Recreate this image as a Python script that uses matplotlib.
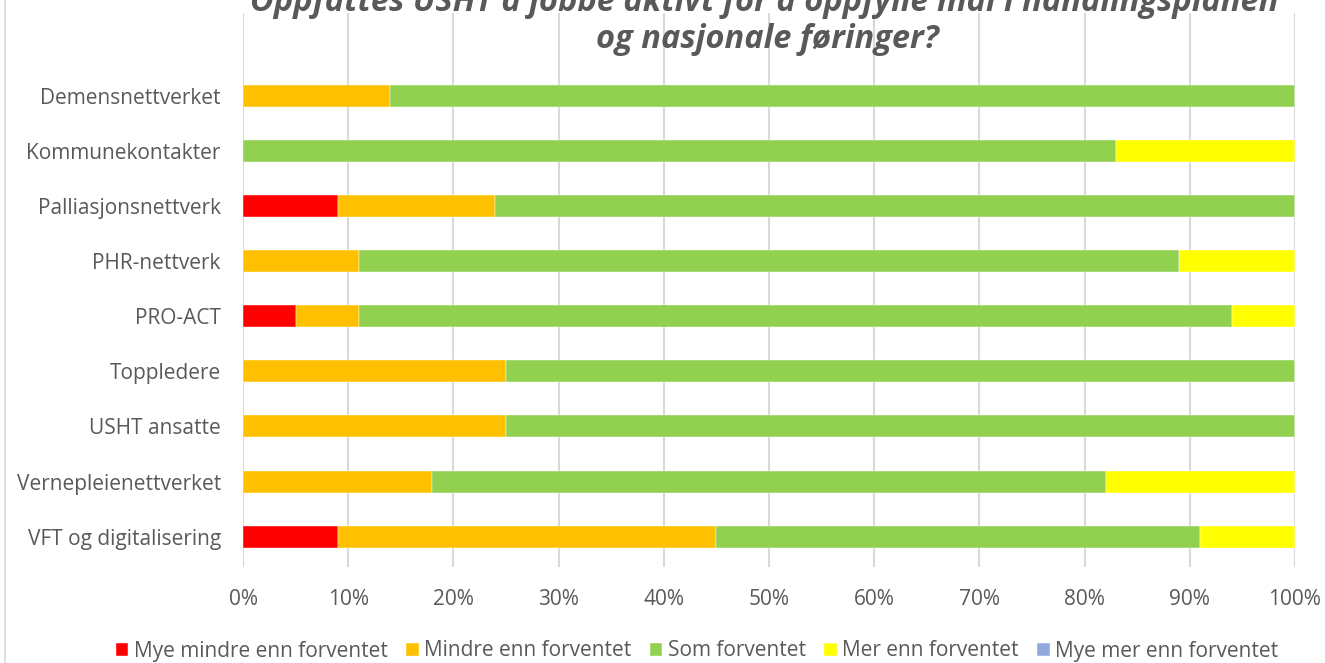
import numpy as np
import matplotlib.pyplot as plt
from matplotlib.patches import Rectangle

plt.rcParams['font.family'] = ['Open Sans', 'DejaVu Sans']

categories = ['Demensnettverket', 'Kommunekontakter', 'Palliasjonsnettverk', 'PHR-nettverk',
              'PRO-ACT', 'Toppledere', 'USHT ansatte', 'Vernepleienettverket', 'VFT og digitalisering']
series_names = ['Mye mindre enn forventet', 'Mindre enn forventet', 'Som forventet',
                'Mer enn forventet', 'Mye mer enn forventet']
mye_mindre = [0, 0, 9, 0, 5, 0, 0, 0, 9]
mindre = [14, 0, 15, 11, 6, 25, 25, 18, 36]
som = [86, 83, 76, 78, 83, 75, 75, 64, 46]
mer = [0, 17, 0, 11, 6, 0, 0, 18, 9]
mye_mer = [0, 0, 0, 0, 0, 0, 0, 0, 0]
colors = ['#FF0000', '#FFC000', '#92D050', '#FFFF00', '#8FAADC']

title1 = 'Oppfattes USHT å jobbe aktivt for å oppfylle mål i handlingsplanen'
title2 = 'og nasjonale føringer?'

fig = plt.figure(figsize=(13.25, 6.63), dpi=100)
ax = fig.add_axes([243/1325, 1 - 567/663, (1295 - 243)/1325, (567 - 13)/663])

y = np.arange(len(categories))
left = np.zeros(len(categories))
for name, vals, c in zip(series_names, [mye_mindre, mindre, som, mer, mye_mer], colors):
    vals = np.array(vals) / 100.0
    ax.barh(y, vals, left=left, height=0.4, color=c, label=name, zorder=3,
            edgecolor='white', linewidth=0.3)
    left += vals

ax.set_xlim(0, 1)
ax.set_ylim(8.55, -1.5)
ax.set_yticks(y)
ax.set_yticklabels(categories, fontsize=15, color='#595959')
ax.set_xticks(np.arange(0, 1.01, 0.1))
ax.set_xticklabels([f'{int(round(v*100))}%' for v in np.arange(0, 1.01, 0.1)], fontsize=15, color='#595959')
ax.tick_params(length=0)
ax.tick_params(axis='y', pad=16)
ax.tick_params(axis='x', pad=16)
ax.grid(axis='x', color='#D9D9D9', linewidth=1.5, zorder=0)
for s in ax.spines.values():
    s.set_visible(False)

fig.text(764/1325, 1 - 1/663, title1, ha='center', va='center', fontsize=23.5, fontweight='bold',
         fontstyle='italic', color='#595959')
fig.text(767/1325, 1 - 40/663, title2, ha='center', va='center', fontsize=23.5, fontweight='bold',
         fontstyle='italic', color='#595959')

fig.legend(loc='center', bbox_to_anchor=(697/1325, 1 - 651/663), ncol=5, frameon=False,
           fontsize=15, handlelength=0.6, handleheight=0.6, handletextpad=0.25,
           columnspacing=0.9, labelcolor='#595959')

fig.add_artist(Rectangle((5/1325, -0.01), 1.0, 1.02, transform=fig.transFigure,
                         fill=False, edgecolor='#D9D9D9', linewidth=1.2))

fig.savefig('out.png', dpi=100)
